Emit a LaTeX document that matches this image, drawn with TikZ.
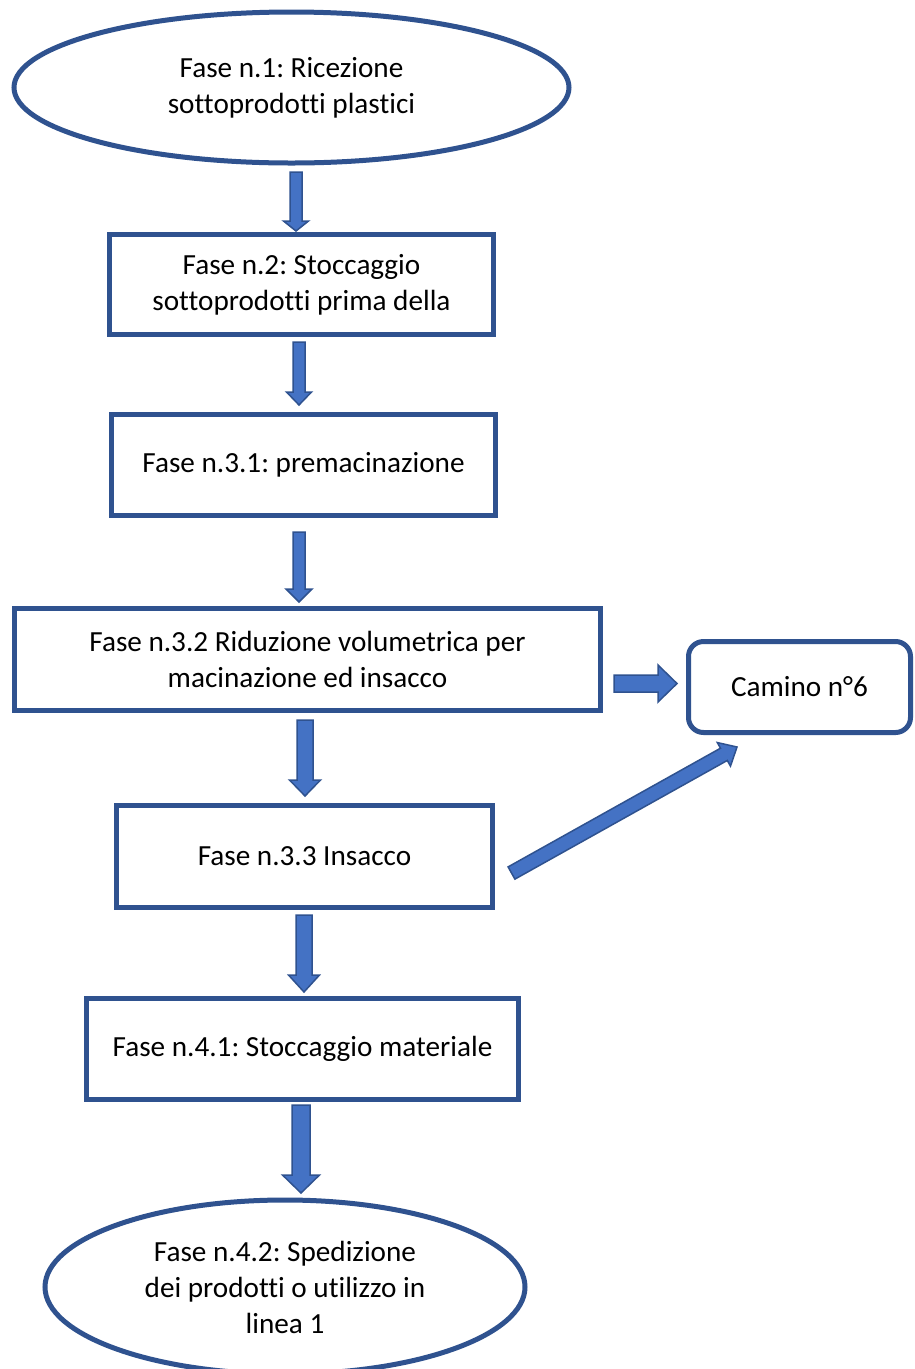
\documentclass[tikz,border=0pt]{standalone}
\usepackage{fontspec}
\setmainfont{Carlito}[Ligatures=NoCommon]
\frenchspacing
\usetikzlibrary{shapes.geometric,calc}
\definecolor{edgeblue}{HTML}{2F528F}
\definecolor{fillblue}{HTML}{4472C4}
\tikzset{
  every node/.style={font=\fontsize{29.2}{36}\selectfont, align=center, inner sep=2pt},
  stepbox/.style={draw=edgeblue, line width=5pt, rectangle, fill=white},
  roundbox/.style={stepbox, rounded corners=15pt},
  endshape/.style={draw=edgeblue, line width=5pt, ellipse, fill=white},
  barrow/.style={draw=edgeblue, line width=1.5pt, fill=fillblue, line join=miter}
}
% #1 tail, #2 tip, #3 shaft half-width, #4 head half-width, #5 head length (pt)
\newcommand\blockarrow[5]{%
  \draw[barrow] let \p1=(#1), \p2=(#2), \n1={atan2(\y2-\y1,\x2-\x1)}, \n2={veclen(\x2-\x1,\y2-\y1)} in
    ($(\p1)+(\n1+90:#3pt)$)
    -- ($(\p1)+(\n1:{\n2*1pt-#5pt})+(\n1+90:#3pt)$)
    -- ($(\p1)+(\n1:{\n2*1pt-#5pt})+(\n1+90:#4pt)$)
    -- (\p2)
    -- ($(\p1)+(\n1:{\n2*1pt-#5pt})+(\n1-90:#4pt)$)
    -- ($(\p1)+(\n1:{\n2*1pt-#5pt})+(\n1-90:#3pt)$)
    -- ($(\p1)+(\n1-90:#3pt)$) -- cycle;}
\begin{document}
\begin{tikzpicture}[x=1pt, y=-1pt]
\useasboundingbox[fill=white] (0,0) rectangle (915,1369);

\node[endshape, minimum width=555pt, minimum height=151pt] (f1) at (291.5,87.5)
  {Fase n.1: Ricezione\\sottoprodotti plastici};
\node[stepbox, minimum width=384pt, minimum height=100pt] (f2) at (301.5,284.5)
  {Fase n.2: Stoccaggio\\sottoprodotti prima della};
\node[stepbox, minimum width=384pt, minimum height=101pt] (f31) at (303.5,465)
  {Fase n.3.1: premacinazione};
\node[stepbox, minimum width=586pt, minimum height=102pt] (f32) at (307.5,659.5)
  {Fase n.3.2 Riduzione volumetrica per\\macinazione ed insacco};
\node[roundbox, minimum width=222pt, minimum height=91pt] (cam) at (799.5,687)
  {Camino n°6};
\node[stepbox, minimum width=376pt, minimum height=102pt] (f33) at (304.5,856.5)
  {Fase n.3.3 Insacco};
\node[stepbox, minimum width=432pt, minimum height=101pt] (f41) at (302.5,1049)
  {Fase n.4.1: Stoccaggio materiale};
\node[endshape, minimum width=480pt, minimum height=174pt] (f42) at (285,1287)
  {Fase n.4.2: Spedizione\\dei prodotti o utilizzo in\\linea 1};

\coordinate (a1t) at (296,172);   \coordinate (a1h) at (296,231);
\coordinate (a2t) at (299,342);   \coordinate (a2h) at (299,405);
\coordinate (a3t) at (299,532);   \coordinate (a3h) at (299,602);
\coordinate (a4t) at (614,683.5); \coordinate (a4h) at (677,683.5);
\coordinate (a5t) at (305,720);   \coordinate (a5h) at (305,796);
\coordinate (a6t) at (304,915);   \coordinate (a6h) at (304,992);
\coordinate (a7t) at (301,1105);  \coordinate (a7h) at (301,1193);
\coordinate (a8t) at (511.5,873); \coordinate (a8h) at (737,747);

\blockarrow{a1t}{a1h}{6}{12.5}{10}
\blockarrow{a2t}{a2h}{6}{12.5}{13}
\blockarrow{a3t}{a3h}{6}{13}{13}
\blockarrow{a4t}{a4h}{8.5}{18.5}{19}
\blockarrow{a5t}{a5h}{8}{15.5}{16}
\blockarrow{a6t}{a6h}{8}{15.5}{17}
\blockarrow{a7t}{a7h}{9}{18.5}{18}
\blockarrow{a8t}{a8h}{7}{13.5}{15}
\end{tikzpicture}
\end{document}
